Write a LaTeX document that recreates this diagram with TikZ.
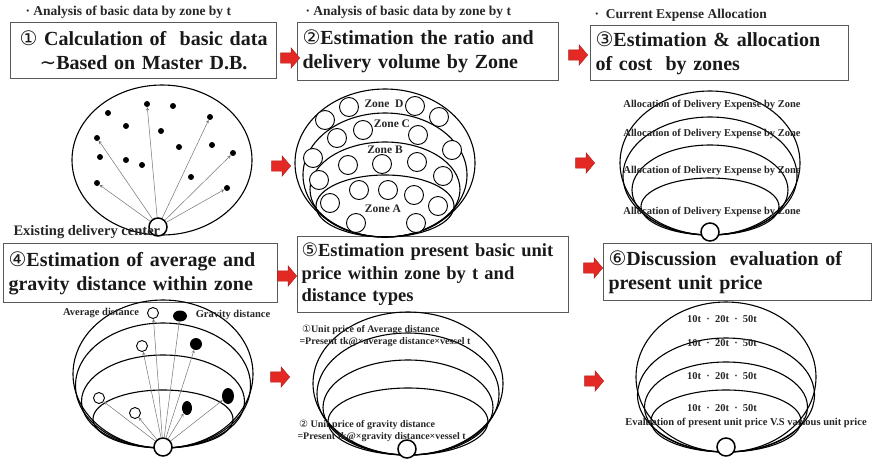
\documentclass[tikz,border=0pt]{standalone}
\usepackage{fontspec}
\setmainfont{Liberation Serif}
\newfontfamily\numfont{DejaVu Sans}
\usetikzlibrary{shapes.arrows,shapes.geometric}

\definecolor{hopred}{RGB}{228,40,36}
\newcommand{\cnum}[1]{{\numfont\mdseries #1}}

\tikzset{
  capbox/.style={draw=black!65, line width=1.1pt, anchor=north west, inner sep=5pt,
    align=left, text=black!90, font=\bfseries\fontsize{20}{24}\selectfont},
  note/.style={anchor=west, text=black!85, font=\bfseries\fontsize{13.5}{16}\selectfont},
  lbl/.style={text=black!85, font=\bfseries\fontsize{10.5}{12}\selectfont},
  hop/.style={single arrow, fill=hopred, draw=hopred!75!black, line width=0.4pt,
    text height=5pt, text depth=5pt, text width=0pt, minimum height=19pt,
    single arrow head extend=5pt, single arrow tip angle=100, inner sep=0pt},
  ring/.style={line width=1.1pt},
  hub/.style={circle, draw, line width=1.5pt, fill=white, minimum size=18pt, inner sep=0pt},
  dot/.style={circle, fill, minimum size=6pt, inner sep=0pt},
  cell/.style={line width=0.9pt, fill=white},
  ray/.style={->, >=stealth, draw=black!55, line width=0.5pt},
  avg/.style={circle, draw, fill=white, line width=0.9pt, minimum size=11pt, inner sep=0pt},
  grav/.style={ellipse, fill, inner sep=0pt}
}

\begin{document}
\begin{tikzpicture}[x=1pt,y=-1pt]
 \useasboundingbox (0,0) rectangle (873,461);

 % headings over the first row
 \node[note] (note1) at (22,12) {·\ Analysis of basic data by zone by t};
 \node[note] (note2) at (302,12) {·\ Analysis of basic data by zone by t};
 \node[note] (note3) at (591,15) {·\ \ Current Expense Allocation};

 % step boxes
 \node[capbox, text width=256pt, minimum height=56pt, align=center] (cap1) at (10,22)
   {\cnum{①}\ Calculation of\ \ basic data\\{\numfont\mdseries ∼}Based on Master D.B.};
 \node[capbox, text width=251pt, minimum height=58pt] (cap2) at (297,22)
   {\cnum{②}Estimation the ratio and\\delivery volume by Zone};
 \node[capbox, text width=248pt, minimum height=55pt] (cap3) at (590,25)
   {\cnum{③}Estimation \& allocation\\of cost\ \ by zones};
 \node[capbox, text width=264pt, minimum height=59pt] (cap4) at (3,243)
   {\cnum{④}Estimation of average and\\gravity distance within zone};
 \node[capbox, text width=263pt, minimum height=76pt, inner sep=4pt,
   font=\bfseries\fontsize{18.5}{22.5}\selectfont] (cap5) at (297,236)
   {\cnum{⑤}Estimation present basic unit\\price within zone by t and\\distance types};
 \node[capbox, text width=258pt, minimum height=57pt] (cap6) at (603,243)
   {\cnum{⑥}Discussion\ \ evaluation of\\present unit price};

 % red arrows between the steps
 \node[hop] (hop12) at (288,58) {};
 \node[hop] (hop23) at (576,55) {};
 \node[hop] (hop45) at (285,276) {};
 \node[hop] (hop56) at (591,268) {};
 \node[hop] (hop1) at (279,166) {};
 \node[hop] (hop2) at (583,163) {};
 \node[hop] (hop4) at (278,377) {};
 \node[hop] (hop5) at (592,381) {};

 % 1: delivery points around the center
 \draw[ring] (162,160) ellipse [x radius=90, y radius=75];
 \foreach \x/\y in {108/113,173/106,126/126,161/131,212/145,179/147,100/157,126/160,142/165,191/177}
   \fill (\x,\y) circle[radius=3];
 \foreach \x/\y [count=\i] in {147/104,210/117,97/138,233/153,97/183,227/188}
   \node[dot] (pt\i) at (\x,\y) {};
 \node[hub] (hub1) at (158,227) {};
 \foreach \i in {1,...,6}
   \draw[ray] (hub1) -- (pt\i);
 \node[anchor=west, text=black!85, font=\bfseries\fontsize{14.5}{16}\selectfont] (site) at (10,232)
   {Existing delivery center};

 % 2: zones A to D
 \foreach \rx/\ry in {90/74,82/62,75/47.5,69/31}
   \draw[ring] (385,237-\ry) ellipse [x radius=\rx, y radius=\ry];
 \foreach \x/\y in {349/107,415/106,325/120,439/117,337/138,363/130,418/135,313/158,452/150,
   348/165,382/164,417/162,319/180,443/176,359/190,388/190,414/195,330/203,438/206,356/223,416/223}
   \draw[cell] (\x,\y) circle[radius=9.5];
 \node[lbl, font=\bfseries\fontsize{11.5}{13}\selectfont] (zoneD) at (384,104) {Zone\ \ D};
 \node[lbl, font=\bfseries\fontsize{11.5}{13}\selectfont] (zoneC) at (392,124) {Zone C};
 \node[lbl, font=\bfseries\fontsize{11.5}{13}\selectfont] (zoneB) at (385,150) {Zone B};
 \node[lbl, font=\bfseries\fontsize{11.5}{13}\selectfont] (zoneA) at (383,209) {Zone A};

 % 3: expense by zone
 \foreach \rx/\ry in {90/72,87/59,78/45,69/28.5}
   \draw[ring] (710,235-\ry) ellipse [x radius=\rx, y radius=\ry];
 \node[hub] (hub3) at (710,232) {};
 \foreach \y [count=\i] in {105,134,171,212}
   \node[lbl] (share\i) at (712,\y) {Allocation of Delivery Expense by Zone};

 % 4: average and gravity distance
 \foreach \rx/\ry in {90/74,87.5/62.5,81.5/46.5,70/29}
   \draw[ring] (163,448-\ry) ellipse [x radius=\rx, y radius=\ry];
 \node[hub] (hub4) at (163,447) {};
 \foreach \x/\y [count=\i] in {153/313,142/346,99/398,135/413}
   \node[avg] (avg\i) at (\x,\y) {};
 \node[grav, minimum width=14pt, minimum height=11pt] (grav1) at (180,316) {};
 \node[grav, minimum width=12pt, minimum height=12pt] (grav2) at (196,344) {};
 \node[grav, minimum width=12pt, minimum height=16pt] (grav3) at (228,396) {};
 \node[grav, minimum width=10pt, minimum height=14pt] (grav4) at (187,408) {};
 \foreach \i in {1,...,4} {
   \draw[ray] (hub4) -- (avg\i);
   \draw[ray] (hub4) -- (grav\i);
 }
 \node[lbl] (avgtxt) at (101,313) {Average distance};
 \node[lbl] (gravtxt) at (233,315) {Gravity distance};

 % 5: unit price formulas
 \foreach \rx/\ry in {95/71.5,91/61,85/47.5,80/33.5}
   \draw[ring] (408,455-\ry) ellipse [x radius=\rx, y radius=\ry];
 \node[hub] (hub5) at (407,449) {};
 \node[lbl, anchor=north west, align=left, font=\bfseries\fontsize{10}{12}\selectfont] (price1) at (296,322)
   {\ \cnum{①}Unit price of Average distance\\=Present tk@×average distance×vessel t};
 \node[lbl, anchor=north west, align=left, font=\bfseries\fontsize{10}{12}\selectfont] (price2) at (294,417)
   {\,\cnum{②} Unit price of gravity distance\\=Present tk@×gravity distance×vessel t};

 % 6: evaluation of unit price
 \foreach \rx/\ry in {90/75,88.5/57,81.5/45,75/31}
   \draw[ring] (726,452-\ry) ellipse [x radius=\rx, y radius=\ry];
 \node[hub] (hub6) at (726,447) {};
 \foreach \y [count=\i] in {319,343,376,408}
   \node[lbl] (load\i) at (722,\y) {10t\ \ ·\ \ 20t\ \ ·\ \ 50t};
 \node[lbl] (verdict) at (746,423) {Evaluation of present unit price V.S various unit price};
\end{tikzpicture}
\end{document}
